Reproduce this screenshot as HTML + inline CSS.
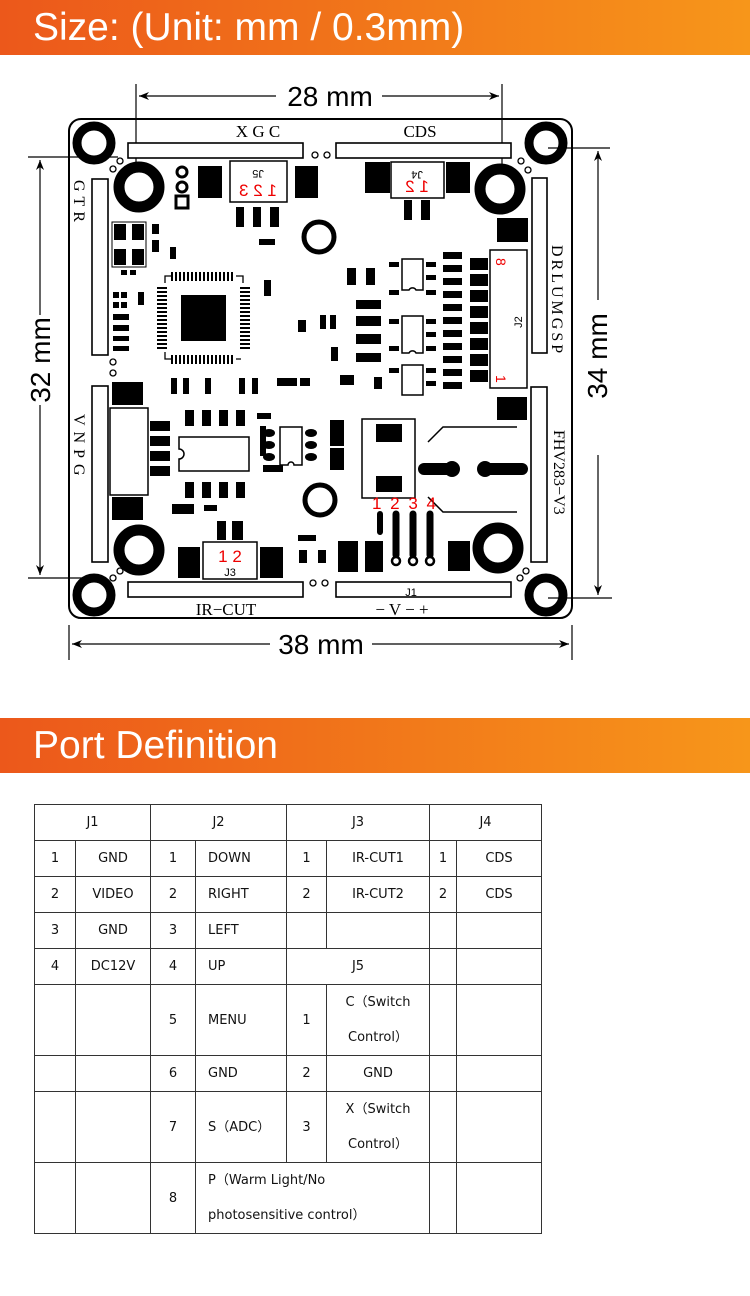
<!DOCTYPE html>
<html><head><meta charset="utf-8">
<style>
*{margin:0;padding:0;box-sizing:border-box}
body{width:750px;height:1296px;background:#fff;position:relative;overflow:hidden;font-family:"Liberation Sans",sans-serif}
.hdr{position:absolute;left:0;width:750px;height:55px;background:linear-gradient(90deg,#ec581b 0%,#f0701a 40%,#f7961a 100%);color:#fff;font-size:39px;line-height:55px;padding-left:33px}
svg{position:absolute;left:0;top:0}
table{position:absolute;left:34px;top:804px;border-collapse:collapse;font-family:"DejaVu Sans","Noto Sans CJK SC",sans-serif;font-size:13px;color:#111}
td{border:1.5px solid #333;text-align:center;padding:0;line-height:35px}
td.l{text-align:left;padding-left:12px}
</style></head><body>
<div class="hdr" style="top:0">Size: (Unit: mm / 0.3mm)</div>
<div class="hdr" style="top:718px">Port Definition</div>

<svg width="750" height="700" viewBox="0 0 750 700">
<defs>
<marker id="ar" markerWidth="10" markerHeight="8" refX="10" refY="4" orient="auto" markerUnits="userSpaceOnUse"><path d="M0,0 L10,4 L0,8 L3,4z" fill="#000"/></marker>
</defs>
<g stroke="#000" stroke-width="1.2" fill="none">
<line x1="136" y1="84" x2="136" y2="172"/><line x1="502" y1="84" x2="502" y2="172"/>
<line x1="276" y1="96" x2="139" y2="96" marker-end="url(#ar)"/>
<line x1="382" y1="96" x2="499" y2="96" marker-end="url(#ar)"/>
<line x1="28" y1="157" x2="118" y2="157"/><line x1="28" y1="578" x2="100" y2="578"/>
<line x1="40" y1="315" x2="40" y2="160" marker-end="url(#ar)"/>
<line x1="40" y1="405" x2="40" y2="575" marker-end="url(#ar)"/>
<line x1="548" y1="148" x2="610" y2="148"/><line x1="548" y1="598" x2="612" y2="598"/>
<line x1="598" y1="300" x2="598" y2="151" marker-end="url(#ar)"/>
<line x1="598" y1="455" x2="598" y2="595" marker-end="url(#ar)"/>
<line x1="69" y1="625" x2="69" y2="660"/><line x1="572" y1="625" x2="572" y2="660"/>
<line x1="270" y1="644" x2="72" y2="644" marker-end="url(#ar)"/>
<line x1="372" y1="644" x2="569" y2="644" marker-end="url(#ar)"/>
</g>
<text x="330" y="106" font-size="28" text-anchor="middle" font-family="Liberation Sans">28 mm</text>
<text x="321" y="654" font-size="28" text-anchor="middle" font-family="Liberation Sans">38 mm</text>
<text transform="translate(50,360) rotate(-90)" font-size="28" text-anchor="middle" font-family="Liberation Sans">32 mm</text>
<text transform="translate(607,356) rotate(-90)" font-size="28" text-anchor="middle" font-family="Liberation Sans">34 mm</text>

<rect x="69" y="119" width="503" height="499" rx="12" fill="none" stroke="#000" stroke-width="2"/>
<g fill="#fff" stroke="#000" stroke-width="1.6">
<rect x="128" y="143" width="175" height="15"/><rect x="336" y="143" width="175" height="15"/>
<rect x="128" y="582" width="175" height="15"/><rect x="336" y="582" width="175" height="15"/>
<rect x="92" y="179" width="16" height="176"/><rect x="92" y="386" width="16" height="176"/>
<rect x="532" y="178" width="15" height="175"/><rect x="531" y="387" width="16" height="175"/>
</g>
<g fill="none" stroke="#000">
<circle cx="94" cy="143" r="17" stroke-width="9"/><circle cx="546" cy="143" r="17" stroke-width="9"/>
<circle cx="94" cy="595" r="17" stroke-width="9"/><circle cx="546" cy="595" r="17" stroke-width="9"/>
<circle cx="139" cy="187" r="20" stroke-width="11"/><circle cx="500" cy="189" r="20" stroke-width="11"/>
<circle cx="139" cy="550" r="20" stroke-width="11"/><circle cx="498" cy="548" r="20" stroke-width="11"/>
<circle cx="319" cy="237" r="15" stroke-width="5"/><circle cx="320" cy="500" r="15" stroke-width="5"/>
<g stroke-width="1.3"><circle cx="120" cy="161" r="3"/><circle cx="113" cy="169" r="3"/><circle cx="315" cy="155" r="3"/><circle cx="327" cy="155" r="3"/>
<circle cx="521" cy="161" r="3"/><circle cx="528" cy="170" r="3"/><circle cx="113" cy="373" r="3"/><circle cx="113" cy="362" r="3"/>
<circle cx="313" cy="583" r="3"/><circle cx="325" cy="583" r="3"/><circle cx="520" cy="578" r="3"/><circle cx="526" cy="571" r="3"/>
<circle cx="120" cy="571" r="3"/><circle cx="113" cy="578" r="3"/><circle cx="521" cy="362" r="3"/><circle cx="521" cy="373" r="3"/>
<circle cx="182" cy="172" r="5" stroke-width="3"/><circle cx="182" cy="187" r="5" stroke-width="3"/></g>
</g>
<rect x="176" y="196" width="12" height="12" fill="none" stroke="#000" stroke-width="3"/>
<g font-family="Liberation Serif" font-size="17" fill="#000">
<text x="258" y="137" text-anchor="middle">X  G  C</text>
<text x="420" y="137" text-anchor="middle">CDS</text>
<text x="226" y="615" text-anchor="middle">IR−CUT</text>
<text x="402" y="615" text-anchor="middle">− V − +</text>
</g>
<g font-family="Liberation Serif" font-size="16" fill="#000">
<text transform="translate(74,180) rotate(90)" letter-spacing="5">GTR</text>
<text transform="translate(74,414) rotate(90)" letter-spacing="6">VNPG</text>
<text transform="translate(552,245) rotate(90)" letter-spacing="3">DRLUMGSP</text>
<text transform="translate(554,430) rotate(90)">FHV283−V3</text>
</g>

<rect x="230" y="161" width="57" height="41" fill="#fff" stroke="#000" stroke-width="1.5"/>
<text transform="translate(258,170) rotate(180)" font-size="11" text-anchor="middle">J5</text>
<text transform="translate(258,196) scale(-1,1)" font-size="17" fill="#e00" text-anchor="middle">1 2 3</text>
<rect x="391" y="162" width="53" height="36" fill="#fff" stroke="#000" stroke-width="1.5"/>
<text transform="translate(417,171) rotate(180)" font-size="11" text-anchor="middle">J4</text>
<text transform="translate(417,192) scale(-1,1)" font-size="17" fill="#e00" text-anchor="middle">1 2</text>
<rect x="203" y="542" width="54" height="37" fill="#fff" stroke="#000" stroke-width="1.5"/>
<text x="230" y="562" font-size="17" fill="#e00" text-anchor="middle">1 2</text>
<text x="230" y="576" font-size="11" text-anchor="middle">J3</text>
<rect x="490" y="250" width="37" height="138" fill="#fff" stroke="#000" stroke-width="1.5"/>
<text transform="translate(496,258) rotate(90)" font-size="14" fill="#e00">8</text>
<text transform="translate(496,375) rotate(90)" font-size="14" fill="#e00">1</text>
<text transform="translate(522,322) rotate(-90)" font-size="11" text-anchor="middle">J2</text>
<text x="411" y="596" font-size="11" text-anchor="middle">J1</text>

<g fill="#000">
<rect x="198" y="166" width="24" height="32"/><rect x="295" y="166" width="23" height="32"/>
<rect x="236" y="207" width="8" height="20"/><rect x="253" y="207" width="8" height="20"/><rect x="270" y="207" width="9" height="20"/>
<rect x="259" y="239" width="16" height="6"/>
<rect x="365" y="162" width="25" height="31"/><rect x="446" y="162" width="24" height="31"/>
<rect x="404" y="200" width="8" height="20"/><rect x="421" y="200" width="9" height="20"/>
<rect x="497" y="218" width="31" height="24"/><rect x="497" y="397" width="30" height="23"/>
<rect x="112" y="222" width="34" height="45" fill="#fff" stroke="#000"/>
<rect x="114" y="224" width="12" height="16"/><rect x="132" y="224" width="12" height="16"/><rect x="114" y="249" width="12" height="16"/><rect x="132" y="249" width="12" height="16"/>
<rect x="181" y="295" width="45" height="46"/>
</g>
<g stroke="#000" stroke-width="1.3" fill="none">
<path d="M165,283 V276 H172 M236,276 H243 V283 M165,352 V359 H172 M236,359 H241"/>
</g>
<g fill="#000">
<rect x="171" y="272" width="2" height="9"/><rect x="175" y="272" width="2" height="9"/><rect x="179" y="272" width="2" height="9"/><rect x="183" y="272" width="2" height="9"/><rect x="187" y="272" width="2" height="9"/><rect x="191" y="272" width="2" height="9"/><rect x="195" y="272" width="2" height="9"/><rect x="199" y="272" width="2" height="9"/><rect x="203" y="272" width="2" height="9"/><rect x="207" y="272" width="2" height="9"/><rect x="211" y="272" width="2" height="9"/><rect x="215" y="272" width="2" height="9"/><rect x="219" y="272" width="2" height="9"/><rect x="223" y="272" width="2" height="9"/><rect x="227" y="272" width="2" height="9"/><rect x="231" y="272" width="2" height="9"/>
<rect x="171" y="355" width="2" height="9"/><rect x="175" y="355" width="2" height="9"/><rect x="179" y="355" width="2" height="9"/><rect x="183" y="355" width="2" height="9"/><rect x="187" y="355" width="2" height="9"/><rect x="191" y="355" width="2" height="9"/><rect x="195" y="355" width="2" height="9"/><rect x="199" y="355" width="2" height="9"/><rect x="203" y="355" width="2" height="9"/><rect x="207" y="355" width="2" height="9"/><rect x="211" y="355" width="2" height="9"/><rect x="215" y="355" width="2" height="9"/><rect x="219" y="355" width="2" height="9"/><rect x="223" y="355" width="2" height="9"/><rect x="227" y="355" width="2" height="9"/><rect x="231" y="355" width="2" height="9"/>
<rect x="157" y="287" width="10" height="2"/><rect x="157" y="291" width="10" height="2"/><rect x="157" y="295" width="10" height="2"/><rect x="157" y="299" width="10" height="2"/><rect x="157" y="303" width="10" height="2"/><rect x="157" y="307" width="10" height="2"/><rect x="157" y="311" width="10" height="2"/><rect x="157" y="315" width="10" height="2"/><rect x="157" y="319" width="10" height="2"/><rect x="157" y="323" width="10" height="2"/><rect x="157" y="327" width="10" height="2"/><rect x="157" y="331" width="10" height="2"/><rect x="157" y="335" width="10" height="2"/><rect x="157" y="339" width="10" height="2"/><rect x="157" y="343" width="10" height="2"/><rect x="157" y="347" width="10" height="2"/>
<rect x="240" y="287" width="10" height="2"/><rect x="240" y="291" width="10" height="2"/><rect x="240" y="295" width="10" height="2"/><rect x="240" y="299" width="10" height="2"/><rect x="240" y="303" width="10" height="2"/><rect x="240" y="307" width="10" height="2"/><rect x="240" y="311" width="10" height="2"/><rect x="240" y="315" width="10" height="2"/><rect x="240" y="319" width="10" height="2"/><rect x="240" y="323" width="10" height="2"/><rect x="240" y="327" width="10" height="2"/><rect x="240" y="331" width="10" height="2"/><rect x="240" y="335" width="10" height="2"/><rect x="240" y="339" width="10" height="2"/><rect x="240" y="343" width="10" height="2"/><rect x="240" y="347" width="10" height="2"/>
</g>
<g fill="#000">
<rect x="121" y="270" width="6" height="5"/><rect x="130" y="270" width="6" height="5"/>
<rect x="113" y="292" width="6" height="6"/><rect x="121" y="292" width="6" height="6"/><rect x="113" y="302" width="6" height="6"/><rect x="121" y="302" width="6" height="6"/>
<rect x="113" y="314" width="16" height="6"/><rect x="113" y="325" width="16" height="6"/><rect x="113" y="336" width="16" height="5"/><rect x="113" y="346" width="16" height="5"/>
<rect x="138" y="292" width="6" height="13"/><rect x="152" y="224" width="7" height="10"/><rect x="152" y="240" width="7" height="12"/><rect x="170" y="247" width="6" height="12"/>
<rect x="264" y="280" width="7" height="16"/>
<rect x="298" y="320" width="8" height="12"/><rect x="320" y="315" width="6" height="14"/><rect x="330" y="315" width="6" height="14"/><rect x="331" y="347" width="7" height="14"/>
<rect x="347" y="268" width="9" height="17"/><rect x="366" y="268" width="9" height="17"/><rect x="356" y="300" width="25" height="9"/><rect x="356" y="316" width="25" height="10"/><rect x="356" y="334" width="25" height="10"/><rect x="356" y="353" width="25" height="9"/>
<rect x="443" y="252" width="19" height="7"/><rect x="443" y="265" width="19" height="7"/><rect x="443" y="278" width="19" height="7"/><rect x="443" y="291" width="19" height="7"/><rect x="443" y="304" width="19" height="7"/><rect x="443" y="317" width="19" height="7"/><rect x="443" y="330" width="19" height="7"/><rect x="443" y="343" width="19" height="7"/><rect x="443" y="356" width="19" height="7"/><rect x="443" y="369" width="19" height="7"/><rect x="443" y="382" width="19" height="7"/>
<rect x="470" y="258" width="18" height="12"/><rect x="470" y="274" width="18" height="12"/><rect x="470" y="290" width="18" height="12"/><rect x="470" y="306" width="18" height="12"/><rect x="470" y="322" width="18" height="12"/><rect x="470" y="338" width="18" height="12"/><rect x="470" y="354" width="18" height="12"/><rect x="470" y="370" width="18" height="12"/>
<rect x="389" y="262" width="10" height="5"/><rect x="389" y="290" width="10" height="5"/><rect x="426" y="262" width="10" height="5"/><rect x="426" y="275" width="10" height="5"/><rect x="426" y="290" width="10" height="5"/>
<rect x="389" y="319" width="10" height="5"/><rect x="389" y="346" width="10" height="5"/><rect x="426" y="319" width="10" height="5"/><rect x="426" y="332" width="10" height="5"/><rect x="426" y="346" width="10" height="5"/>
<rect x="389" y="368" width="10" height="5"/><rect x="426" y="368" width="10" height="5"/><rect x="426" y="381" width="10" height="5"/>
<rect x="374" y="377" width="8" height="12"/><rect x="340" y="375" width="14" height="10"/>
<rect x="112" y="382" width="31" height="23"/><rect x="112" y="497" width="31" height="23"/>
<rect x="150" y="421" width="20" height="10"/><rect x="150" y="436" width="20" height="10"/><rect x="150" y="451" width="20" height="10"/><rect x="150" y="466" width="20" height="10"/>
<rect x="185" y="410" width="9" height="16"/><rect x="202" y="410" width="9" height="16"/><rect x="219" y="410" width="9" height="16"/><rect x="236" y="410" width="9" height="16"/>
<rect x="185" y="482" width="9" height="16"/><rect x="202" y="482" width="9" height="16"/><rect x="219" y="482" width="9" height="16"/><rect x="236" y="482" width="9" height="16"/>
<rect x="171" y="378" width="6" height="16"/><rect x="183" y="378" width="6" height="16"/><rect x="205" y="378" width="6" height="16"/><rect x="239" y="378" width="6" height="16"/><rect x="252" y="378" width="6" height="16"/>
<rect x="172" y="504" width="22" height="10"/><rect x="204" y="505" width="13" height="6"/>
<rect x="257" y="413" width="14" height="6"/><rect x="260" y="426" width="6" height="30"/><rect x="263" y="465" width="20" height="7"/>
<rect x="178" y="547" width="22" height="31"/><rect x="260" y="547" width="23" height="31"/><rect x="217" y="521" width="9" height="19"/><rect x="232" y="521" width="11" height="19"/>
<rect x="299" y="550" width="8" height="13"/><rect x="318" y="550" width="8" height="13"/><rect x="298" y="535" width="18" height="6"/>
<rect x="277" y="378" width="20" height="8"/><rect x="300" y="378" width="10" height="8"/><rect x="330" y="420" width="14" height="26"/><rect x="330" y="448" width="14" height="22"/>
<rect x="338" y="541" width="20" height="31"/><rect x="365" y="541" width="18" height="31"/><rect x="448" y="541" width="22" height="30"/>
<rect x="376" y="424" width="26" height="18"/><rect x="376" y="476" width="26" height="16"/>
<ellipse cx="269" cy="433" rx="6" ry="4"/><ellipse cx="269" cy="445" rx="6" ry="4"/><ellipse cx="269" cy="457" rx="6" ry="4"/>
<ellipse cx="311" cy="433" rx="6" ry="4"/><ellipse cx="311" cy="445" rx="6" ry="4"/><ellipse cx="311" cy="457" rx="6" ry="4"/>
</g>
<g fill="#fff" stroke="#000" stroke-width="1.5">
<rect x="110" y="408" width="38" height="87"/>
<path d="M179,437 H249 V471 H179 V459 A5,5 0 0 0 179,449 Z"/>
<path d="M280,427 H302 V465 H294 A3,3 0 0 0 288,465 H280 Z"/>
<path d="M402,259 H423 V290 H416 A4,4 0 0 0 409,290 H402 Z"/>
<path d="M402,316 H423 V353 H416 A4,4 0 0 0 409,353 H402 Z"/>
<path d="M402,365 H423 V395 H402 Z"/>
<rect x="362" y="419" width="53" height="79" fill="none"/>
<path d="M428,442 L443,427 H517 M517,512 H443 L428,497" fill="none"/>
</g>
<g stroke="#000" stroke-linecap="round" fill="none">
<line x1="424" y1="469" x2="448" y2="469" stroke-width="12"/><line x1="488" y1="469" x2="522" y2="469" stroke-width="12"/>
<line x1="380" y1="514" x2="380" y2="532" stroke-width="6"/>
<line x1="396" y1="514" x2="396" y2="555" stroke-width="7"/><line x1="413" y1="514" x2="413" y2="555" stroke-width="7"/><line x1="430" y1="514" x2="430" y2="555" stroke-width="7"/>
</g>
<g fill="#000"><circle cx="452" cy="469" r="8"/><circle cx="485" cy="469" r="8"/></g>
<g fill="#fff" stroke="#000" stroke-width="2.5"><circle cx="396" cy="561" r="4"/><circle cx="413" cy="561" r="4"/><circle cx="430" cy="561" r="4"/></g>
<text x="405" y="509" font-size="17" fill="#e00" text-anchor="middle" letter-spacing="2">1 2 3 4</text>
</svg>

<table>
<colgroup><col style="width:41px"><col style="width:75px"><col style="width:45px"><col style="width:91px"><col style="width:40px"><col style="width:103px"><col style="width:27px"><col style="width:85px"></colgroup>
<tr style="height:36px"><td colspan="2">J1</td><td colspan="2">J2</td><td colspan="2">J3</td><td colspan="2">J4</td></tr>
<tr style="height:36px"><td>1</td><td>GND</td><td>1</td><td class="l">DOWN</td><td>1</td><td>IR-CUT1</td><td>1</td><td>CDS</td></tr>
<tr style="height:36px"><td>2</td><td>VIDEO</td><td>2</td><td class="l">RIGHT</td><td>2</td><td>IR-CUT2</td><td>2</td><td>CDS</td></tr>
<tr style="height:36px"><td>3</td><td>GND</td><td>3</td><td class="l">LEFT</td><td></td><td></td><td></td><td></td></tr>
<tr style="height:36px"><td>4</td><td>DC12V</td><td>4</td><td class="l">UP</td><td colspan="2">J5</td><td></td><td></td></tr>
<tr style="height:71px"><td></td><td></td><td>5</td><td class="l">MENU</td><td>1</td><td>C（Switch<br>Control）</td><td></td><td></td></tr>
<tr style="height:36px"><td></td><td></td><td>6</td><td class="l">GND</td><td>2</td><td>GND</td><td></td><td></td></tr>
<tr style="height:71px"><td></td><td></td><td>7</td><td class="l">S（ADC）</td><td>3</td><td>X（Switch<br>Control）</td><td></td><td></td></tr>
<tr style="height:71px"><td></td><td></td><td>8</td><td class="l" colspan="3">P（Warm Light/No<br>photosensitive control）</td><td></td><td></td></tr>
</table>
</body></html>
